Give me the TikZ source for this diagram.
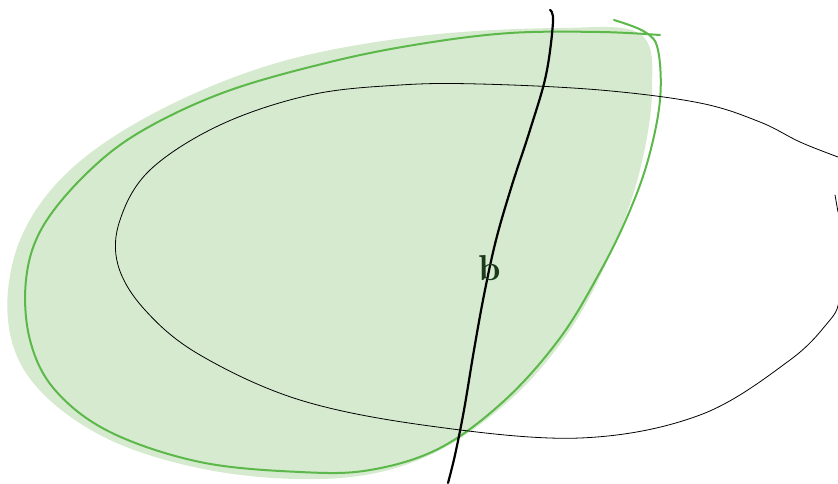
\documentclass[tikz,border=0pt]{standalone}
\usepackage{fontspec}
\usepackage{tikz}
\usetikzlibrary{positioning}
\definecolor{blobgreen}{HTML}{D5EACE}
\definecolor{edgegreen}{HTML}{5CB84A}
\definecolor{inkgreen}{HTML}{1B3A1B}

\begin{document}
\begin{tikzpicture}[
    x=1pt, y=-1pt,
    blobfill/.style={fill=blobgreen, draw=none},
    blobline/.style={draw=edgegreen, line width=2pt, line cap=round, line join=round},
    setline/.style={draw=black, line width=0.8pt, line cap=round},
    cutline/.style={draw=black, line width=2.2pt, line cap=round},
    lbl/.style={font=\fontsize{36}{36}\selectfont\bfseries, text=inkgreen, inner sep=0pt}
  ]
    \useasboundingbox (0,0) rectangle (838,483);

    % shaded region
    \fill[blobfill] plot[smooth cycle, tension=0.6] coordinates {
      (420,36) (560,28) (640,34) (652,90) (640,170) (612,250) (570,330)
      (510,400) (430,455) (340,478) (220,472) (110,440) (35,385)
      (8,320) (20,240) (70,170) (160,110) (280,62)};

    % green outline
    \draw[blobline] plot[smooth, tension=0.6] coordinates {
      (614,20) (645,32) (658,50) (660,100) (648,160) (628,215) (600,272)
      (560,338) (505,400) (440,448) (370,470) (300,472) (200,462)
      (110,432) (55,390) (30,340) (26,280) (42,228) (85,175) (140,132)
      (225,92) (330,62) (420,44) (510,33) (600,32) (660,35)};

    % thin outline of the other set
    \draw[setline] plot[smooth, tension=0.6] coordinates {
      (838,157) (800,142) (760,122) (700,103) (600,90) (480,84) (400,85)
      (310,95) (220,125) (150,170) (120,220) (118,265) (145,310)
      (200,355) (300,400) (430,426) (580,438) (700,415) (790,360)
      (830,320) (838,305)};
    \draw[setline] (835,195) -- (838,212);

    % dividing line
    \draw[cutline] plot[smooth, tension=0.6] coordinates {
      (550,10) (553,22) (546,75) (530,130) (512,185) (496,240)
      (484,295) (474,350) (464,410) (455,455) (448,483)};

    \node[lbl] (b) at (490,268) {b};
\end{tikzpicture}
\end{document}
